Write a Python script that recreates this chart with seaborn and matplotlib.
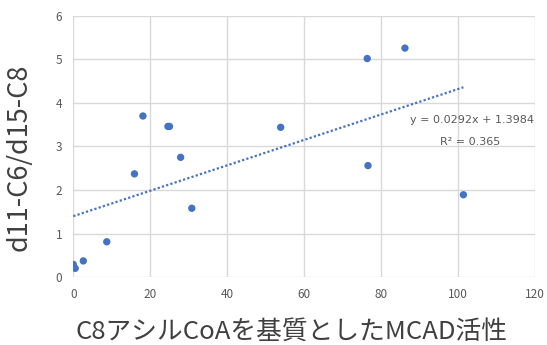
import numpy as np
import pandas as pd
import matplotlib
matplotlib.use('Agg')
import matplotlib.pyplot as plt
import seaborn as sns

# values
mcad_activity = [0.0, 0.5, 2.6, 8.7, 15.9, 18.1, 24.6, 25.0, 27.9, 30.8, 53.9, 76.4, 76.6, 86.2, 101.4]
ratio = [0.29, 0.20, 0.37, 0.81, 2.37, 3.70, 3.46, 3.46, 2.75, 1.58, 3.44, 5.02, 2.56, 5.26, 1.89]
slope = 0.0292
intercept = 1.3984
r2 = 0.365

df = pd.DataFrame({'x': mcad_activity, 'y': ratio})

sns.set_style('white')
plt.rcParams['font.family'] = ['Noto Sans CJK JP', 'DejaVu Sans']

blue = '#4472C4'
fig = plt.figure(figsize=(5.47, 3.45), dpi=100)
ax = fig.add_axes([0.134, 0.197, 0.844, 0.757])

sns.scatterplot(data=df, x='x', y='y', ax=ax, color=blue, s=28, edgecolor='none', zorder=3)

# linear trend line
xs = np.array([0, max(mcad_activity)])
ax.plot(xs, slope * xs + intercept, color=blue, linestyle=(0, (1, 1)), linewidth=1.6, zorder=2)

ax.text(103.7, 3.61, f'y = {slope}x + {intercept}', fontsize=8, color='#595959',
        family='DejaVu Sans', ha='center', va='center')
ax.text(103.2, 3.11, f'R² = {r2}', fontsize=8, color='#595959',
        family='DejaVu Sans', ha='center', va='center')

ax.set_xlim(0, 120)
ax.set_ylim(0, 6)
ax.set_xticks(range(0, 121, 20))
ax.set_yticks(range(0, 7))
ax.grid(True, color='#D9D9D9', linewidth=1)
ax.set_axisbelow(True)
for s in ax.spines.values():
    s.set_visible(False)
ax.tick_params(length=0, labelsize=8.5, labelcolor='#595959', pad=8)

ax.set_xlabel('C8アシルCoAを基質としたMCAD活性', fontsize=18.5, color='#404040')
ax.set_ylabel('d11-C6/d15-C8', fontsize=19.5, color='#404040')
ax.xaxis.set_label_coords(0.473, -0.16)
ax.yaxis.set_label_coords(-0.088, 0.46)

fig.savefig('out.png', dpi=100)
